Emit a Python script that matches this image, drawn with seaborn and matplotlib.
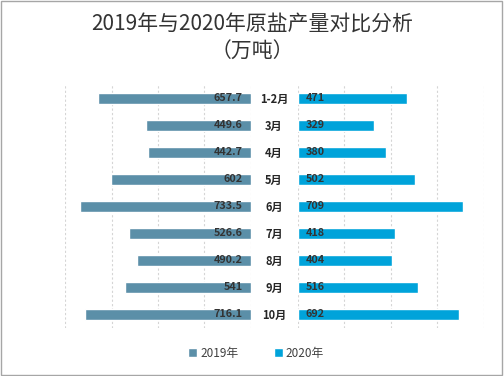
import matplotlib
matplotlib.use("Agg")
import matplotlib.pyplot as plt
import seaborn as sns
import pandas as pd
from matplotlib.patches import Patch, Rectangle

months = ["1-2月", "3月", "4月", "5月", "6月", "7月", "8月", "9月", "10月"]
v2019 = [657.7, 449.6, 442.7, 602, 733.5, 526.6, 490.2, 541, 716.1]
v2020 = [471, 329, 380, 502, 709, 418, 404, 516, 692]
series = ["2019年", "2020年"]
colors = ["#5B8FA8", "#00A3DA"]

sns.set_theme(style="white")
plt.rcParams['font.family'] = ['Noto Sans CJK SC', 'DejaVu Sans']

df = pd.DataFrame({"month": months, "v2019": v2019, "v2020": v2020})

fig = plt.figure(figsize=(5.04, 3.76), dpi=100)
axL = fig.add_axes([0.129, 0.128, 0.369, 0.646])
axR = fig.add_axes([0.591, 0.128, 0.369, 0.646])

sns.barplot(data=df, y="month", x="v2019", orient="h", color=colors[0],
            width=0.42, ax=axL, saturation=1)
sns.barplot(data=df, y="month", x="v2020", orient="h", color=colors[1],
            width=0.42, ax=axR, saturation=1)

for ax in (axL, axR):
    ax.set_xlim(0, 800)
    ax.set_ylim(8.5, -0.5)
    ax.set_xticks([0, 200, 400, 600, 800])
    ax.grid(axis="x", color="#D5D5D5", linestyle=(0, (2, 2)), linewidth=0.8)
    ax.set_axisbelow(True)
    ax.set_xticklabels([])
    ax.set_yticklabels([])
    ax.set_xlabel("")
    ax.set_ylabel("")
    ax.tick_params(length=0)
    for s in ax.spines.values():
        s.set_visible(False)
axL.invert_xaxis()

for i, v in enumerate(v2019):
    axL.text(36, i, f"{v:g}", ha="right", va="center", fontsize=7.8,
             color="#333333", fontweight="bold")
for i, v in enumerate(v2020):
    axR.text(32, i, f"{v:g}", ha="left", va="center", fontsize=7.8,
             color="#333333", fontweight="bold")

# category labels in the middle
for i, m in enumerate(months):
    y = 1 - (85.5 + 27 * i + 13.5) / 376
    fig.text(274 / 504, y, m, ha="center", va="center", fontsize=8,
             fontweight="bold", color="#262626")

fig.text(0.5, 1 - 24 / 376, "2019年与2020年原盐产量对比分析", ha="center",
         va="center", fontsize=15, color="#333333", fontweight="medium")
fig.text(0.5, 1 - 52 / 376, "（万吨）", ha="center", va="center",
         fontsize=15, color="#333333", fontweight="medium")

handles = [Patch(facecolor=c, label=s) for c, s in zip(colors, series)]
fig.legend(handles=handles, loc="center", bbox_to_anchor=(0.508, 1 - 353 / 376),
           ncol=2, frameon=False, fontsize=8.5, handlelength=0.75,
           handleheight=0.75, handletextpad=0.25, columnspacing=3.0,
           labelcolor="#404040")

fig.patches.append(Rectangle((0.002, 0.002), 0.995, 0.995, transform=fig.transFigure,
                             fill=False, edgecolor="#A6A6A6", linewidth=1))

fig.savefig("out.png", dpi=100)
